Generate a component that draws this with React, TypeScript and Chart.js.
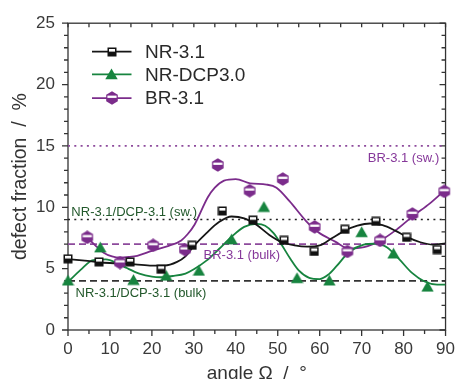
import React, { useEffect, useRef } from "react";
import { Chart, registerables } from "chart.js";
Chart.register(...registerables);

// ---- measured points ----
const nrAngle = [0, 7.4, 14.8, 22.2, 29.6, 36.8, 44.1, 51.5, 58.7, 66.0, 73.4, 80.7, 88.0];
const nrValue = [5.8, 5.55, 5.55, 4.95, 6.9, 9.7, 8.95, 7.3, 6.4, 8.2, 8.85, 7.55, 6.55];

const dcpAngle = [0, 7.7, 15.6, 23.4, 31.2, 39.0, 46.7, 54.6, 62.3, 70.0, 77.6, 85.7];
const dcpValue = [4.05, 6.75, 4.1, 4.45, 4.85, 7.4, 10.05, 4.25, 4.05, 8.0, 6.25, 3.55];

const brAngle = [4.6, 12.4, 20.3, 27.9, 35.7, 43.3, 51.2, 58.8, 66.6, 74.4, 82.1, 89.7];
const brValue = [7.55, 5.5, 6.9, 6.55, 13.45, 11.35, 12.3, 8.4, 6.4, 7.3, 9.45, 11.3];

// ---- fitted curves ----
const nrFitX = [0, 4, 8, 12, 16, 20, 23, 26, 28, 30, 33, 36, 39, 42, 45, 48, 51, 54, 57, 60, 63, 66, 69, 72, 75, 78, 81, 84, 87, 90];
const nrFitY = [5.78, 5.65, 5.5, 5.42, 5.35, 5.25, 5.25, 5.55, 6.0, 6.85, 7.9, 8.8, 9.25, 9.1, 8.55, 7.75, 7.15, 6.9, 6.8, 6.9, 7.5, 8.1, 8.5, 8.68, 8.55, 8.1, 7.55, 7.15, 6.95, 7.05];

const dcpFitX = [0, 3, 6, 9, 12, 14, 17, 20, 22, 25, 28, 30, 33, 36, 39, 42, 45, 47, 49, 51, 53, 55, 57.5, 60, 62, 64, 67, 70.5, 73, 76, 79, 82, 85, 88, 90];
const dcpFitY = [3.9, 4.9, 5.7, 5.75, 5.4, 5.05, 4.6, 4.35, 4.3, 4.4, 4.6, 4.95, 5.65, 6.6, 7.6, 8.4, 8.65, 8.5, 7.9, 6.9, 5.8, 4.85, 4.25, 4.15, 4.5, 5.2, 6.35, 6.95, 7.03, 6.75, 5.75, 4.65, 3.95, 3.7, 3.7];

const brFitX = [4.6, 6.5, 8.5, 10.5, 12.4, 14.5, 16.5, 20, 24, 27, 28.5, 30.2, 33.3, 35, 37.2, 40, 43.4, 47.3, 49.7, 52.8, 56.7, 59.5, 63.7, 66.8, 70.6, 74.5, 78.4, 82.3, 86.2, 89.7];
const brFitY = [7.55, 6.9, 6.3, 6.0, 5.9, 5.95, 6.05, 6.45, 6.85, 7.3, 7.8, 8.6, 10.8, 11.6, 12.17, 12.3, 11.95, 11.85, 11.6, 10.5, 8.9, 8.0, 7.2, 6.65, 6.75, 7.3, 8.2, 9.3, 10.3, 11.35];

// ---- reference levels ----
const brSwollen = 15;
const nrSwollen = 9;
const brBulk = 7;
const nrBulk = 4;
const xRange = [0, 90];

const seriesNames = ["NR-3.1", "NR-DCP3.0", "BR-3.1"];
const refLabels = ["BR-3.1 (sw.)", "NR-3.1/DCP-3.1 (sw.)", "BR-3.1 (bulk)", "NR-3.1/DCP-3.1 (bulk)"];

const BLACK = "#161616";
const GREEN = "#17843f";
const PURPLE = "#7b2c8b";
const PURPLE_TXT = "#86389a";
const DKGREEN = "#22582b";
const FONT = "'Liberation Sans', Arial, Helvetica, sans-serif";

const pts = (xs: number[], ys: number[]) => xs.map((x, i) => ({ x, y: ys[i] }));
const flat = (v: number) => xRange.map((x) => ({ x, y: v }));

function squareMarker() {
  const c = document.createElement("canvas");
  c.width = 10; c.height = 10;
  const g = c.getContext("2d")!;
  g.fillStyle = "#111";
  g.fillRect(0.5, 0.5, 9, 9);
  g.fillStyle = "#fff";
  g.fillRect(2, 2, 6, 2.6);
  return c;
}
function hexPath(g: CanvasRenderingContext2D, cx: number, cy: number, r: number) {
  g.beginPath();
  for (let i = 0; i < 6; i++) {
    const a = -Math.PI / 2 + (i * Math.PI) / 3;
    const px = cx + r * Math.cos(a), py = cy + r * Math.sin(a);
    if (i === 0) g.moveTo(px, py); else g.lineTo(px, py);
  }
  g.closePath();
}
function hexMarker() {
  const c = document.createElement("canvas");
  c.width = 14; c.height = 14;
  const g = c.getContext("2d")!;
  hexPath(g, 7, 7, 6.7);
  g.fillStyle = PURPLE;
  g.fill();
  g.save();
  hexPath(g, 7, 7, 5.3);
  g.clip();
  g.fillStyle = "#fff";
  g.fillRect(0, 4.6, 14, 2.3);
  g.restore();
  return c;
}
function triMarker() {
  const c = document.createElement("canvas");
  c.width = 13; c.height = 12;
  const g = c.getContext("2d")!;
  g.beginPath();
  g.moveTo(6.5, 0.5);
  g.lineTo(12.7, 11.3);
  g.lineTo(0.3, 11.3);
  g.closePath();
  g.fillStyle = GREEN;
  g.fill();
  return c;
}

export default function App() {
  const ref = useRef<HTMLCanvasElement>(null);
  useEffect(() => {
    if (!ref.current) return;
    const sq = squareMarker();
    const hx = hexMarker();
    const tr = triMarker();

    const framePlugin = {
      id: "frame",
      beforeDatasetsDraw(chart: any) {
        const { ctx, chartArea: a, scales } = chart;
        const xs = scales.x, ys = scales.y;
        ctx.save();
        ctx.strokeStyle = "#333";
        ctx.lineWidth = 1.3;
        ctx.strokeRect(a.left, a.top, a.right - a.left, a.bottom - a.top);
        ctx.beginPath();
        for (let v = 0; v <= 90; v += 5) {
          const p = xs.getPixelForValue(v);
          const len = v % 10 === 0 ? 6 : 4;
          ctx.moveTo(p, a.bottom); ctx.lineTo(p, a.bottom + len);
          ctx.moveTo(p, a.top); ctx.lineTo(p, a.top + 4);
        }
        for (let v = 0; v <= 25; v += 1) {
          const p = ys.getPixelForValue(v);
          const len = v % 5 === 0 ? 6 : 4;
          ctx.moveTo(a.left, p); ctx.lineTo(a.left - len, p);
          ctx.moveTo(a.right, p); ctx.lineTo(a.right - len, p);
        }
        ctx.stroke();
        ctx.restore();
      },
      afterDatasetsDraw(chart: any) {
        const { ctx, chartArea: a, scales } = chart;
        const xs = scales.x, ys = scales.y;
        ctx.save();
        // reference labels
        ctx.font = `13px ${FONT}`;
        ctx.textBaseline = "alphabetic";
        ctx.fillStyle = PURPLE_TXT;
        ctx.textAlign = "right";
        ctx.fillText(refLabels[0], xs.getPixelForValue(88.5), ys.getPixelForValue(brSwollen) + 16);
        ctx.textAlign = "left";
        ctx.fillStyle = DKGREEN;
        ctx.fillText(refLabels[1], xs.getPixelForValue(0.8), ys.getPixelForValue(nrSwollen) - 4);
        ctx.fillStyle = PURPLE_TXT;
        ctx.fillText(refLabels[2], xs.getPixelForValue(32.3), ys.getPixelForValue(brBulk) + 15);
        ctx.fillStyle = DKGREEN;
        ctx.fillText(refLabels[3], xs.getPixelForValue(1.8), ys.getPixelForValue(nrBulk) + 16);
        // legend
        const rows = [
          { y: a.top + 28.5, color: BLACK, img: sq },
          { y: a.top + 51.2, color: GREEN, img: tr },
          { y: a.top + 75, color: PURPLE, img: hx },
        ];
        const lx0 = a.left + 24, lx1 = a.left + 63.5, mx = a.left + 43.7;
        rows.forEach((r, i) => {
          ctx.strokeStyle = r.color;
          ctx.lineWidth = 1.8;
          ctx.beginPath();
          ctx.moveTo(lx0, r.y); ctx.lineTo(lx1, r.y);
          ctx.stroke();
          ctx.drawImage(r.img, Math.round(mx - r.img.width / 2), Math.round(r.y - r.img.height / 2));
          ctx.font = `19px ${FONT}`;
          ctx.fillStyle = "#2a2a2a";
          ctx.textAlign = "left";
          ctx.textBaseline = "middle";
          ctx.fillText(seriesNames[i], a.left + 77, r.y + 1);
        });
        ctx.restore();
      },
    };

    const curve = (data: any, color: string, order: number) => ({
      type: "scatter" as const,
      data,
      showLine: true,
      borderColor: color,
      borderWidth: 1.8,
      pointRadius: 0,
      cubicInterpolationMode: "monotone" as const,
      order,
    });
    const refLine = (v: number, color: string, dash: number[]) => ({
      type: "scatter" as const,
      data: flat(v),
      showLine: true,
      borderColor: color,
      borderWidth: 1.6,
      borderDash: dash,
      pointRadius: 0,
      order: 3,
    });
    const marks = (data: any, img: HTMLCanvasElement) => ({
      type: "scatter" as const,
      data,
      pointStyle: img,
      pointRadius: 5,
      borderWidth: 0,
      showLine: false,
      clip: false as any,
      order: 0,
    });

    const chart = new Chart(ref.current, {
      type: "scatter",
      data: {
        datasets: [
          marks(pts(nrAngle, nrValue), sq),
          marks(pts(dcpAngle, dcpValue), tr),
          marks(pts(brAngle, brValue), hx),
          curve(pts(nrFitX, nrFitY), BLACK, 1),
          curve(pts(dcpFitX, dcpFitY), GREEN, 1),
          curve(pts(brFitX, brFitY), PURPLE, 1),
          refLine(brSwollen, "#8d4a9c", [2, 4.3]),
          refLine(nrSwollen, "#222", [2, 4.3]),
          refLine(brBulk, "#8d4a9c", [7, 4]),
          refLine(nrBulk, "#333", [7, 4]),
        ] as any,
      },
      options: {
        responsive: false,
        animation: false,
        devicePixelRatio: 1,
        layout: { padding: { top: 22, right: 11, left: 0, bottom: 0 } },
        plugins: { legend: { display: false }, tooltip: { enabled: false } },
        scales: {
          x: {
            type: "linear",
            min: 0,
            max: 90,
            afterFit: (s: any) => { s.height = 70; },
            grid: { display: true, drawOnChartArea: false, drawTicks: false, color: "rgba(0,0,0,0)" },
            border: { display: false },
            ticks: { stepSize: 10, padding: 9, color: "#3a3a3a", font: { size: 17, family: FONT } },
            title: { display: true, text: "angle Ω  /  °", color: "#333", font: { size: 19, family: FONT }, padding: { top: 0, bottom: 15 } },
          },
          y: {
            type: "linear",
            min: 0,
            max: 25,
            afterFit: (s: any) => { s.width = 68; },
            grid: { display: true, drawOnChartArea: false, drawTicks: false, color: "rgba(0,0,0,0)" },
            border: { display: false },
            ticks: { stepSize: 5, padding: 13, color: "#3a3a3a", font: { size: 17, family: FONT } },
            title: { display: true, text: "defect fraction  /  %", color: "#333", font: { size: 19.5, family: FONT }, padding: { top: 9, bottom: 0 } },
          },
        },
      } as any,
      plugins: [framePlugin],
    });
    return () => chart.destroy();
  }, []);

  return (
    <div style={{ position: "absolute", left: 0, top: 0, width: 464, height: 379, overflow: "hidden", background: "#fff" }}>
      <canvas ref={ref} width={464} height={400} style={{ display: "block", width: 464, height: 400 }} />
    </div>
  );
}
